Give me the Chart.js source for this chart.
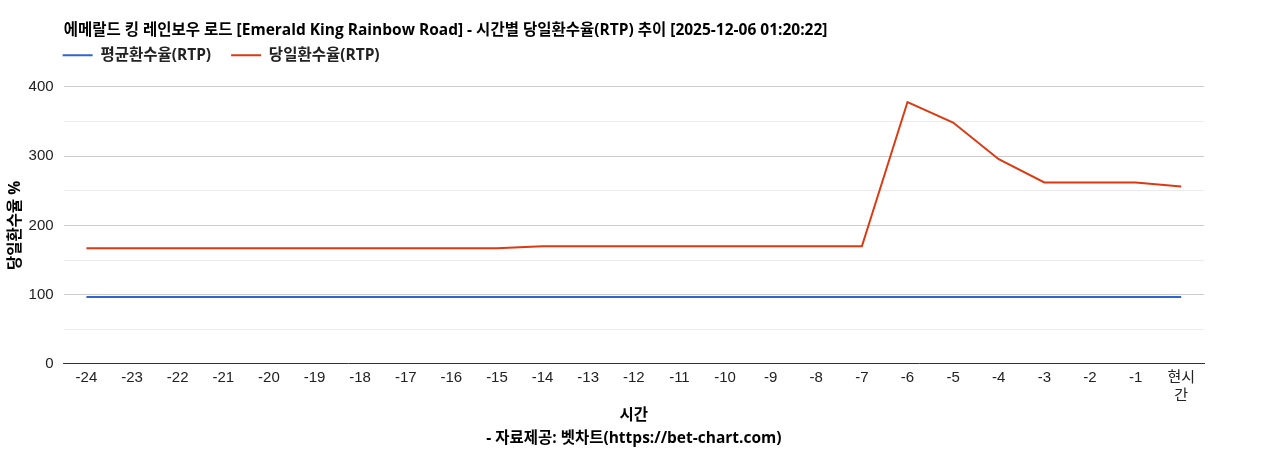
<!DOCTYPE html>
<html lang="ko">
<head>
<meta charset="UTF-8">
<title>에메랄드 킹 레인보우 로드 RTP</title>
<script src="https://cdn.jsdelivr.net/npm/chart.js"></script>
<style>
  html, body { margin: 0; padding: 0; background: #fff; }
  #wrap { width: 1268px; height: 450px; }
</style>
</head>
<body>
<div id="wrap"><canvas id="myChart"></canvas></div>
<script>
// 시간 (hours ago), last one is "now"
const hours = [
  "-24", "-23", "-22", "-21", "-20", "-19", "-18", "-17", "-16", "-15",
  "-14", "-13", "-12", "-11", "-10", "-9", "-8", "-7", "-6", "-5",
  "-4", "-3", "-2", "-1", ["현시", "간"]
];

// 평균환수율(RTP)
const avgRtp = [
  96.8, 96.8, 96.8, 96.8, 96.8, 96.8, 96.8, 96.8, 96.8, 96.8,
  96.8, 96.8, 96.8, 96.8, 96.8, 96.8, 96.8, 96.8, 96.8, 96.8,
  96.8, 96.8, 96.8, 96.8, 96.8
];

// 당일환수율(RTP)
const dayRtp = [
  167, 167, 167, 167, 167, 167, 167, 167, 167, 167,
  170, 170, 170, 170, 170, 170, 170, 170, 378, 348.5,
  295.5, 262, 262, 262, 256
];

const yTicks = [0, 100, 200, 300, 400];

const FONT = "'Liberation Sans', Arial, 'Noto Sans CJK KR', sans-serif";
const BOLD_FONT = "'Open Sans', 'Noto Sans CJK KR', sans-serif";

// nudge the legend so its first line sits on the plot's left edge
const legendShift = {
  id: "legendShift",
  beforeDraw(chart) {
    if (!chart.legend) return;
    chart.legend.left = chart.chartArea.left - 21;
    chart.legend.top = 27.5;
  }
};

const data = {
  labels: hours,
  datasets: [
    {
      label: "평균환수율(RTP)",
      data: avgRtp,
      borderColor: "#3366cc",
      backgroundColor: "#3366cc",
      borderWidth: 2,
      pointRadius: 0,
      tension: 0
    },
    {
      label: "당일환수율(RTP)",
      data: dayRtp,
      borderColor: "#dc3912",
      backgroundColor: "#dc3912",
      borderWidth: 2,
      pointRadius: 0,
      tension: 0
    }
  ]
};

const config = {
  type: "line",
  data: data,
  plugins: [legendShift],
  options: {
    responsive: true,
    maintainAspectRatio: false,
    animation: false,
    layout: { padding: { left: 0, right: 64, top: 0, bottom: 0 } },
    plugins: {
      title: {
        display: true,
        text: "에메랄드 킹 레인보우 로드 [Emerald King Rainbow Road] - 시간별 당일환수율(RTP) 추이 [2025-12-06 01:20:22]",
        align: "start",
        fullSize: false,
        color: "#000",
        font: { family: BOLD_FONT, size: 15.5, weight: "bold" },
        padding: { top: 21.7, bottom: 1 }
      },
      legend: {
        position: "top",
        align: "start",
        fullSize: false,
        labels: {
          usePointStyle: true,
          pointStyle: "line",
          pointStyleWidth: 30,
          boxHeight: 14,
          padding: 20,
          color: "#222",
          font: { family: BOLD_FONT, size: 15.5, weight: "bold" }
        }
      },
      tooltip: { enabled: false }
    },
    scales: {
      x: {
        offset: true,
        grid: { display: false, drawTicks: false },
        border: { display: true, color: "#333", width: 1 },
        ticks: {
          color: "#222",
          maxRotation: 0,
          autoSkip: false,
          padding: 5,
          font: { family: FONT, size: 15, lineHeight: 1.2 }
        },
        title: {
          display: true,
          text: ["시간", "- 자료제공: 벳차트(https://bet-chart.com)"],
          color: "#000",
          font: { family: BOLD_FONT, size: 15.5, weight: "bold", lineHeight: 1.484 },
          padding: { top: -6, bottom: 0 }
        }
      },
      y: {
        min: 0,
        max: 400,
        border: { display: false },
        grid: {
          drawTicks: false,
          color: (ctx) => {
            const v = ctx.tick.value;
            if (v === 0) return "rgba(0,0,0,0)";
            return yTicks.includes(v) ? "#cccccc" : "#ebebeb";
          }
        },
        ticks: {
          stepSize: 50,
          padding: 10,
          color: "#222",
          font: { family: FONT, size: 15 },
          callback: (v) => (yTicks.includes(v) ? String(v) : "")
        },
        title: {
          display: true,
          text: "당일환수율 %",
          color: "#000",
          font: { family: BOLD_FONT, size: 15.5, weight: "bold" },
          padding: { top: 6, bottom: -6 }
        }
      }
    }
  }
};

const myChart = new Chart(document.getElementById("myChart"), config);
</script>
</body>
</html>
